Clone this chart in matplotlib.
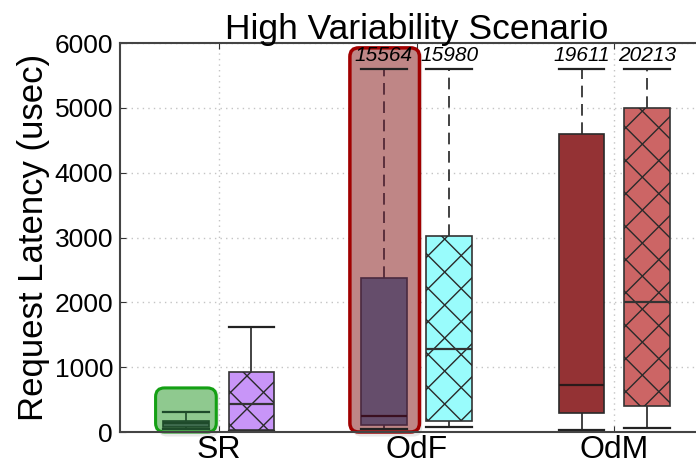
import numpy as np
import matplotlib
matplotlib.use('Agg')
from matplotlib import pyplot as plt
from matplotlib.patches import FancyBboxPatch
from matplotlib.lines import Line2D

plt.rcParams['font.family'] = ['Liberation Sans', 'DejaVu Sans']

groups = ['SR', 'OdF', 'OdM']

# plain (left) boxes per group: whislo, q1, med, q3, whishi
plain_lo = [40, 45, 30]
plain_q1 = [82, 108, 288]
plain_med = [134, 252, 725]
plain_q3 = [174, 2370, 4593]
plain_hi = [303, 5600, 5600]
plain_max = [None, 15564, 19611]
plain_colors = ['#3f6b4f', '#654d6b', '#943234']

# hatched (right) boxes per group
hatch_lo = [20, 82, 67]
hatch_q1 = [30, 170, 400]
hatch_med = [427, 1280, 2010]
hatch_q3 = [920, 3030, 5003]
hatch_hi = [1625, 5600, 5600]
hatch_max = [None, 15980, 20213]
hatch_colors = ['#c895f8', '#99fcfc', '#cc6565']

yticks = [0, 1000, 2000, 3000, 4000, 5000, 6000]

x = np.arange(1, len(groups) + 1)
off = 0.165
w = 0.232

fig = plt.figure(figsize=(6.96, 4.66), dpi=100)
ax_w, ax_h = 593, 389  # axes size in pixels
ax = fig.add_axes([120 / 696, 34 / 466, ax_w / 696, ax_h / 466])
ax.set_xlim(0.5, 3.5)
ax.set_ylim(0, 6000)
sx = ax_w / 3.0      # px per x unit
sy = ax_h / 6000.0   # px per y unit


def stats(lo, q1, med, q3, hi):
    return [dict(whislo=a, q1=b, med=c, q3=d, whishi=e, fliers=[])
            for a, b, c, d, e in zip(lo, q1, med, q3, hi)]


# highlight boxes (behind)
def highlight(x0, x1, y1, fc, ec, lw):
    asp = sx / sy
    sh = FancyBboxPatch((x0 + 0.014, -70), x1 - x0, y1 + 70,
                        boxstyle='round,pad=0,rounding_size=0.045',
                        mutation_aspect=asp, fc='#000000', ec='none',
                        alpha=0.09, zorder=1, clip_on=False)
    ax.add_patch(sh)
    p = FancyBboxPatch((x0, 0), x1 - x0, y1,
                       boxstyle='round,pad=0,rounding_size=0.045',
                       mutation_aspect=asp, fc=fc, ec=ec, lw=lw, zorder=1.5,
                       clip_on=False)
    ax.add_patch(p)


highlight(x[0] - off - 0.155, x[0] - off + 0.152, 680, '#8fc98f', '#14a014', 2.2)
highlight(x[1] - off - 0.172, x[1] - off + 0.18, 5925, '#bf8686', '#a00000', 2.5)

common = dict(widths=w, capwidths=w, patch_artist=True, showfliers=False,
              manage_ticks=False,
              whiskerprops=dict(color='#222222', linewidth=1.2),
              capprops=dict(color='#222222', linewidth=1.6))
bp1 = ax.bxp(stats(plain_lo, plain_q1, plain_med, plain_q3, plain_hi),
             positions=x - off,
             boxprops=dict(edgecolor='#2a2a2a', linewidth=1.2),
             medianprops=dict(color='#2a1a1a', linewidth=1.6), **common)
bp2 = ax.bxp(stats(hatch_lo, hatch_q1, hatch_med, hatch_q3, hatch_hi),
             positions=x + off,
             boxprops=dict(edgecolor='#333333', linewidth=1.2),
             medianprops=dict(color='#333333', linewidth=1.6), **common)

for bp, cols, mx in [(bp1, plain_colors, plain_max), (bp2, hatch_colors, hatch_max)]:
    for i, b in enumerate(bp['boxes']):
        b.set_facecolor(cols[i])
        b.set_zorder(3)
    for m in bp['medians']:
        m.set_zorder(4)
    for i in range(len(groups)):
        if mx[i] is not None:
            bp['whiskers'][2 * i + 1].set_linestyle((0, (7, 4)))

# inner boxes in highlighted areas look darker
for k in (2, 3):
    bp1['whiskers'][k].set_color('#4a2030')
bp1['medians'][1].set_color('#3a1020')
bp1['boxes'][1].set_edgecolor('#4a2a40')
bp1['boxes'][0].set_edgecolor('#1e4a2a')
for k in (0, 1):
    bp1['whiskers'][k].set_color('#1e4a2a')
    bp1['caps'][k].set_color('#1e4a2a')
bp1['medians'][0].set_color('#1e4a2a')

# sparse cross hatch on right boxes (45 deg on screen, ~33 px lattice)
per = 33.0
for i in range(len(groups)):
    box = bp2['boxes'][i]
    xa = (x[i] + off - w / 2) * sx
    xb = (x[i] + off + w / 2) * sx
    ya = hatch_q1[i] * sy
    yb = hatch_q3[i] * sy
    x0 = xa + 2
    y0 = yb - 20
    px = np.array([xa - 5, xb + 5])
    for s in (1, -1):
        for k in range(-30, 40):
            py = y0 + k * per + s * (px - x0)
            if max(py) < ya - 60 or min(py) > yb + 60:
                continue
            ln = Line2D(px / sx, py / sy, color='#2a2a2a', lw=1.0, zorder=3.5)
            ax.add_line(ln)
            ln.set_clip_path(box)

# clipped maxima labels
for bp_pos, mx in [(x - off, plain_max), (x + off, hatch_max)]:
    for p, m in zip(bp_pos, mx):
        if m is not None:
            ax.text(p, 5730, str(m), ha='center', va='baseline', fontsize=15,
                    style='italic', zorder=5)

ax.set_xticks(x)
ax.set_xticklabels(groups, fontsize=23)
ax.set_yticks(yticks)
ax.set_yticklabels([str(v) for v in yticks], fontsize=19)
ax.tick_params(direction='in', top=True, right=True, length=4, color='#333333')
ax.tick_params(axis='x', pad=2)
ax.tick_params(axis='y', pad=5)
ax.grid(True, linestyle=(0, (1, 3)), color='#c4c4c4', linewidth=1.0)
ax.set_axisbelow(True)
for s in ax.spines.values():
    s.set_linewidth(1.5)
    s.set_color('#444444')

ax.set_ylabel('Request Latency (usec)', fontsize=25, labelpad=3)
ax.set_title('High Variability Scenario', fontsize=25.5, pad=3)

fig.savefig('out.png', dpi=100)
